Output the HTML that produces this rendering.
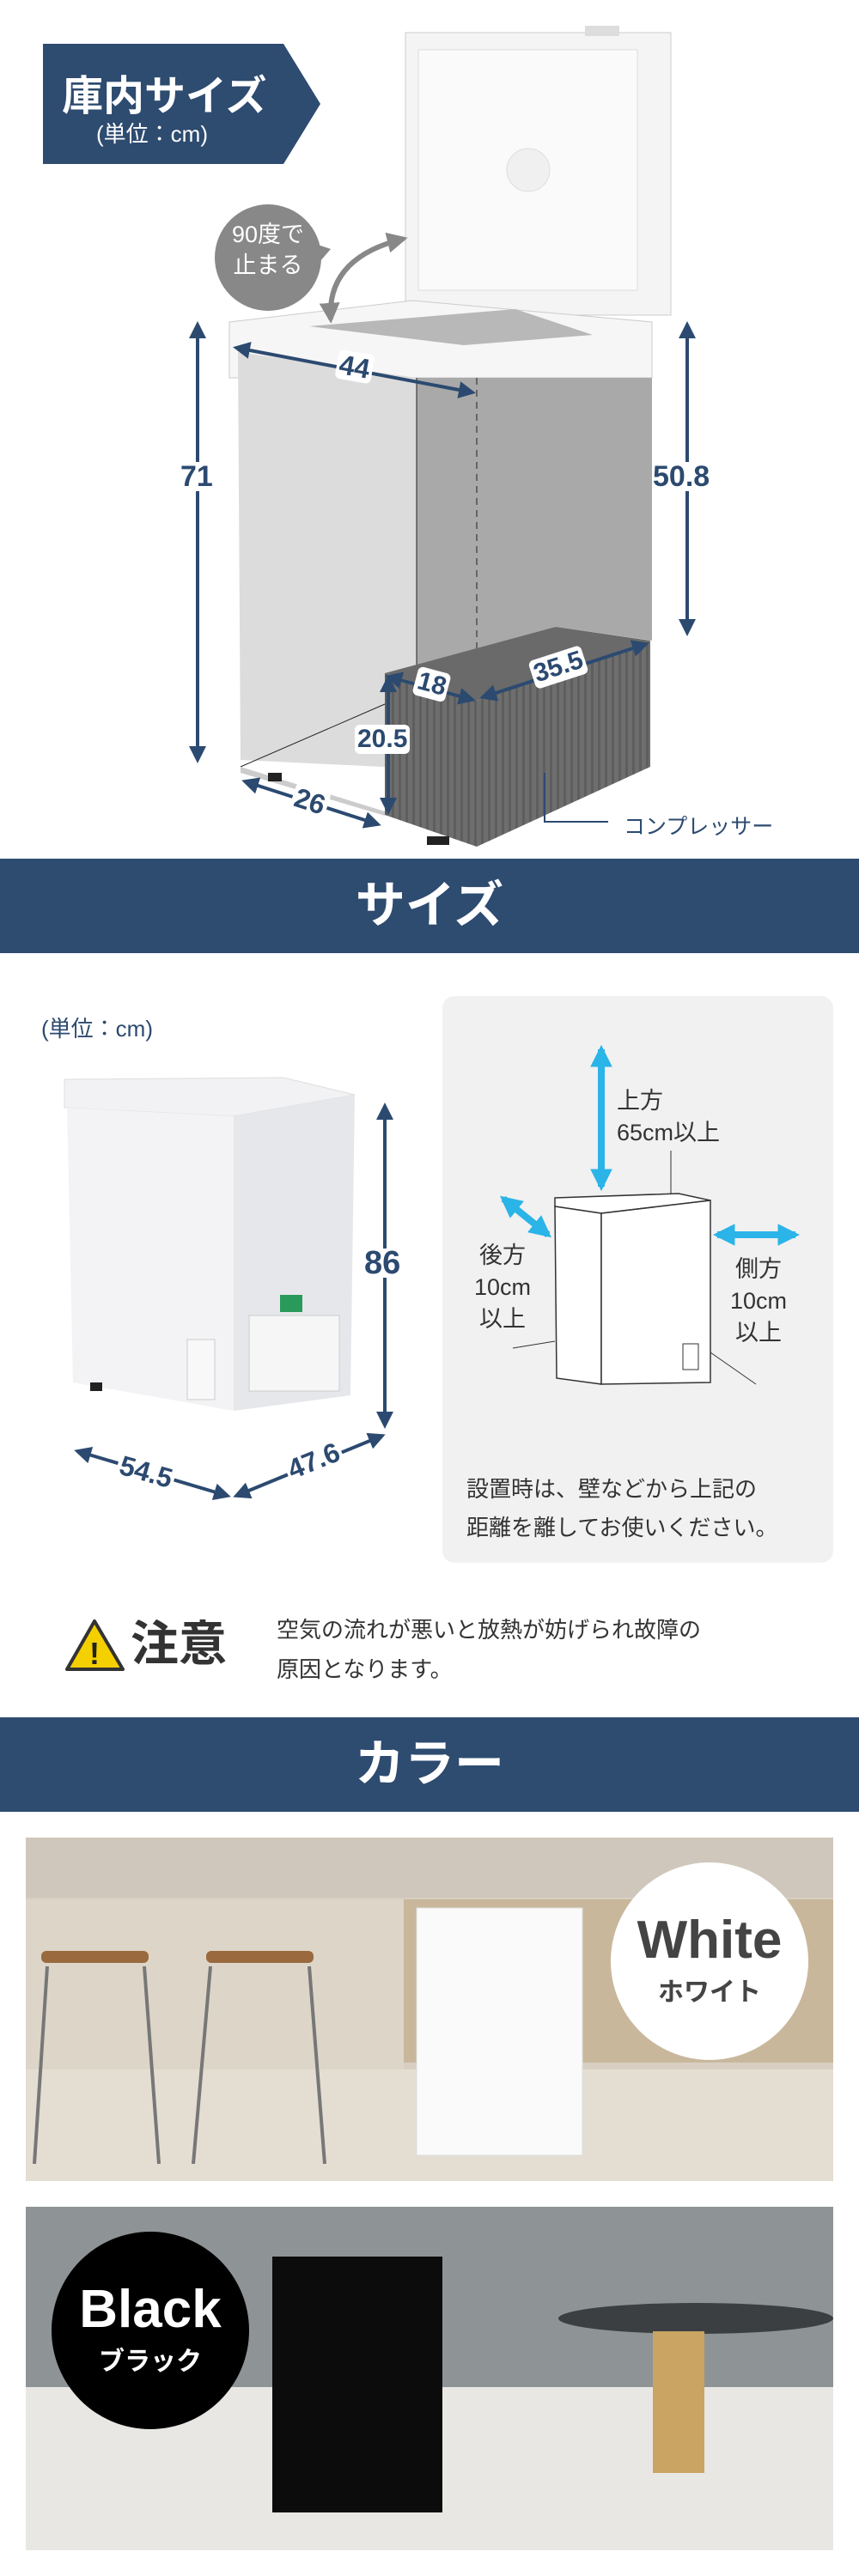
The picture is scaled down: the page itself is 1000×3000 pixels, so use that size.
<!DOCTYPE html>
<html><head><meta charset="utf-8"><style>
body{margin:0;background:#fff;}
#p{position:relative;width:1000px;height:3000px;overflow:hidden;background:#fff;font-family:"Liberation Sans","Noto Sans CJK JP",sans-serif;}
.t{position:absolute;white-space:nowrap;}
.band{position:absolute;left:0;width:1000px;height:110px;background:#2e4b70;color:#fff;font-weight:bold;font-size:58px;text-align:center;line-height:110px;}
.d{position:absolute;white-space:nowrap;font-weight:bold;color:#2c4a70;background:#fff;line-height:34px;padding:0 3px;border-radius:6px;}
</style></head><body><div id="p">
<svg width="1000" height="3000" style="position:absolute;left:0;top:0">
<defs>
<marker id="a" viewBox="0 0 10 10" refX="8" refY="5" markerWidth="5" markerHeight="5" orient="auto-start-reverse"><path d="M0,0L10,5L0,10z" fill="#2c4a70"/></marker>
<marker id="g" viewBox="0 0 10 10" refX="8" refY="5" markerWidth="4" markerHeight="4" orient="auto-start-reverse"><path d="M0,0L10,5L0,10z" fill="#888"/></marker>
<marker id="b" viewBox="0 0 10 10" refX="8" refY="5" markerWidth="3.2" markerHeight="3.2" orient="auto-start-reverse"><path d="M0,0L10,5L0,10z" fill="#2ab4e8"/></marker>
<pattern id="st" width="8" height="8" patternUnits="userSpaceOnUse"><rect width="8" height="8" fill="#6e6e6e"/><rect width="3" height="8" fill="#5e5e5e"/></pattern>
<clipPath id="c1"><rect x="30" y="2140" width="940" height="400"/></clipPath>
<clipPath id="c2"><rect x="30" y="2570" width="940" height="400"/></clipPath>
</defs>
<polygon points="50,51 330,51 373,121 330,191 50,191" fill="#2e4b70"/>
<!-- lid -->
<rect x="472" y="38" width="309" height="329" fill="#f4f4f4" stroke="#ccc"/>
<rect x="487" y="58" width="255" height="280" fill="#fafafa" stroke="#ddd"/>
<circle cx="615" cy="198" r="25" fill="#f0f0f0" stroke="#ddd"/>
<rect x="681" y="30" width="40" height="12" fill="#ddd"/>
<!-- body -->
<polygon points="267,375 480,350 759,375 759,440 267,440" fill="#f6f6f6" stroke="#ccc"/>
<polygon points="360,380 600,360 690,390 540,402" fill="#b8b8b8"/>
<polygon points="277,410 485,440 485,895 280,885" fill="#dcdcdc"/>
<polygon points="485,440 759,440 759,746 647,730 555,764 485,786" fill="#a9a9a9"/>
<line x1="485" y1="440" x2="485" y2="786" stroke="#222" stroke-width="1"/>
<line x1="555" y1="440" x2="555" y2="816" stroke="#222" stroke-width="1" stroke-dasharray="8,6"/>
<line x1="280" y1="893" x2="448" y2="820" stroke="#222" stroke-width="1"/>
<polygon points="280,893 448,945 448,950 280,900" fill="#ccc"/>
<polygon points="448,784 647,730 757,746 555,816" fill="#6a6a6a"/>
<polygon points="448,784 555,816 555,986 448,949" fill="url(#st)"/>
<polygon points="555,816 757,746 757,893 555,986" fill="url(#st)"/>
<rect x="312" y="900" width="16" height="10" fill="#222"/>
<rect x="497" y="974" width="26" height="10" fill="#222"/>
<circle cx="312" cy="300" r="62" fill="#888"/>
<polygon points="370,285 385,290 372,305" fill="#888"/>
<path d="M385,372 Q380,300 470,278" fill="none" stroke="#888" stroke-width="6" marker-start="url(#g)" marker-end="url(#g)"/>
<g stroke="#2c4a70" stroke-width="4" fill="none" marker-start="url(#a)" marker-end="url(#a)">
<line x1="230" y1="378" x2="230" y2="885"/>
<line x1="800" y1="378" x2="800" y2="737"/>
<line x1="275" y1="405" x2="550" y2="457"/>
<line x1="452" y1="788" x2="550" y2="815"/>
<line x1="562" y1="812" x2="752" y2="750"/>
<line x1="452" y1="790" x2="452" y2="945"/>
<line x1="285" y1="910" x2="440" y2="960"/>
<line x1="448" y1="1288" x2="448" y2="1660"/>
<line x1="90" y1="1690" x2="265" y2="1742"/>
<line x1="275" y1="1742" x2="445" y2="1672"/>
</g>
<polyline points="634,900 634,957 708,957" fill="none" stroke="#2c4a70" stroke-width="2"/>
<!-- size freezer -->
<polygon points="75,1257 330,1255 413,1275 272,1300 75,1290" fill="#f2f2f4" stroke="#ddd"/>
<polygon points="78,1290 272,1300 272,1643 85,1610" fill="#f3f3f5"/>
<polygon points="272,1300 413,1275 408,1625 272,1643" fill="#e6e7ea"/>
<rect x="290" y="1532" width="105" height="88" fill="#f6f6f6" stroke="#ccc"/>
<rect x="218" y="1560" width="32" height="70" fill="#f8f8f8" stroke="#ccc"/>
<rect x="326" y="1508" width="26" height="20" fill="#2a9a5a"/>
<rect x="105" y="1610" width="14" height="10" fill="#222"/>
<rect x="515" y="1160" width="455" height="660" rx="14" fill="#f1f1f1"/>
<g stroke="#2ab4e8" stroke-width="8" fill="none" marker-start="url(#b)" marker-end="url(#b)">
<line x1="700" y1="1222" x2="700" y2="1382"/>
<line x1="586" y1="1396" x2="638" y2="1438"/>
<line x1="835" y1="1438" x2="926" y2="1438"/>
</g>
<polygon points="646,1395 790,1390 827,1398 700,1413 646,1405" fill="#fff" stroke="#333" stroke-width="1.5"/>
<polygon points="646,1405 700,1413 700,1612 648,1605" fill="#fff" stroke="#333" stroke-width="1.5"/>
<polygon points="700,1413 827,1398 827,1610 700,1612" fill="#fff" stroke="#333" stroke-width="1.5"/>
<rect x="795" y="1565" width="18" height="30" fill="none" stroke="#333"/>
<line x1="781" y1="1340" x2="781" y2="1390" stroke="#333"/>
<line x1="597" y1="1570" x2="646" y2="1562" stroke="#333"/>
<line x1="827" y1="1575" x2="880" y2="1612" stroke="#333"/>
<path d="M110,1888 L143,1944 L78,1944 Z" fill="#f5d000" stroke="#333" stroke-width="4" stroke-linejoin="round"/>
<text x="110" y="1938" font-size="36" font-weight="bold" text-anchor="middle" fill="#222" font-family="Liberation Sans">!</text>
<g clip-path="url(#c1)">
<rect x="30" y="2140" width="940" height="400" fill="#d8cfc2"/>
<rect x="30" y="2140" width="940" height="70" fill="#cfc7bb"/>
<rect x="30" y="2212" width="440" height="320" fill="#ddd5c8"/>
<rect x="470" y="2212" width="500" height="190" fill="#c9b79c"/>
<rect x="30" y="2410" width="940" height="130" fill="#e4ddd2"/>
<rect x="485" y="2222" width="193" height="288" fill="#fafafa" stroke="#ddd"/>
<rect x="48" y="2272" width="125" height="14" rx="6" fill="#9a6a3e"/>
<rect x="240" y="2272" width="125" height="14" rx="6" fill="#9a6a3e"/>
<g stroke="#777" stroke-width="4"><line x1="55" y1="2290" x2="40" y2="2520"/><line x1="168" y1="2290" x2="185" y2="2520"/><line x1="245" y1="2290" x2="225" y2="2520"/><line x1="360" y1="2290" x2="378" y2="2520"/></g>
<circle cx="826" cy="2284" r="115" fill="#fff"/>
</g>
<g clip-path="url(#c2)">
<rect x="30" y="2570" width="940" height="400" fill="#8e9496"/>
<rect x="30" y="2780" width="940" height="190" fill="#e9e7e3"/>
<rect x="317" y="2628" width="198" height="298" fill="#0c0c0c"/>
<ellipse cx="810" cy="2700" rx="160" ry="18" fill="#3c3f42"/>
<rect x="760" y="2715" width="60" height="165" fill="#c9a463"/>
<circle cx="175" cy="2714" r="115" fill="#000"/>
</g>
</svg>
<div class="t" style="left:72px;top:72px;font-size:48px;font-weight:bold;color:#fff;">庫内サイズ</div>
<div class="t" style="left:112px;top:136px;font-size:26px;color:#fff;">(単位：cm)</div>
<div class="t" style="left:262px;top:255px;width:100px;text-align:center;font-size:27px;line-height:36px;color:#fff;white-space:normal">90度で<br>止まる</div>
<div class="d" style="left:210px;top:538px;font-size:34px;padding:0;">71</div>
<div class="d" style="left:760px;top:538px;font-size:34px;padding:0;">50.8</div>
<div class="d" style="left:392px;top:410px;font-size:32px;transform:rotate(10deg)">44</div>
<div class="d" style="left:483px;top:780px;font-size:30px;transform:rotate(15deg)">18</div>
<div class="d" style="left:618px;top:760px;font-size:30px;transform:rotate(-18deg)">35.5</div>
<div class="d" style="left:413px;top:844px;font-size:30px;">20.5</div>
<div class="d" style="left:340px;top:916px;font-size:32px;transform:rotate(18deg)">26</div>
<div class="t" style="left:726px;top:943px;font-size:25px;color:#2c4a70;">コンプレッサー</div>
<div class="band" style="top:1000px;">サイズ</div>
<div class="t" style="left:48px;top:1178px;font-size:26px;color:#2c4a70;">(単位：cm)</div>
<div class="d" style="left:424px;top:1454px;font-size:38px;padding:0;">86</div>
<div class="d" style="left:136px;top:1697px;font-size:32px;transform:rotate(16deg)">54.5</div>
<div class="d" style="left:331px;top:1684px;font-size:32px;transform:rotate(-22deg)">47.6</div>
<div class="t" style="left:718px;top:1264px;font-size:27px;line-height:37px;color:#333;">上方<br>65cm以上</div>
<div class="t" style="left:540px;top:1444px;width:90px;text-align:center;font-size:27px;line-height:37px;color:#333;">後方<br>10cm<br>以上</div>
<div class="t" style="left:838px;top:1460px;width:90px;text-align:center;font-size:27px;line-height:37px;color:#333;">側方<br>10cm<br>以上</div>
<div class="t" style="left:543px;top:1712px;font-size:26px;line-height:45px;color:#333;">設置時は、壁などから上記の<br>距離を離してお使いください。</div>
<div class="t" style="left:152px;top:1880px;font-size:56px;font-weight:bold;color:#333;line-height:70px;">注意</div>
<div class="t" style="left:322px;top:1875px;font-size:26px;line-height:46px;color:#333;">空気の流れが悪いと放熱が妨げられ故障の<br>原因となります。</div>
<div class="band" style="top:2000px;">カラー</div>
<div class="t" style="left:711px;top:2225px;width:230px;text-align:center;font-size:62px;font-weight:bold;color:#444;line-height:70px;">White</div>
<div class="t" style="left:711px;top:2295px;width:230px;text-align:center;font-size:30px;font-weight:bold;color:#444;">ホワイト</div>
<div class="t" style="left:60px;top:2655px;width:230px;text-align:center;font-size:62px;font-weight:bold;color:#fff;line-height:70px;">Black</div>
<div class="t" style="left:60px;top:2725px;width:230px;text-align:center;font-size:30px;font-weight:bold;color:#fff;">ブラック</div>
</div></body></html>
